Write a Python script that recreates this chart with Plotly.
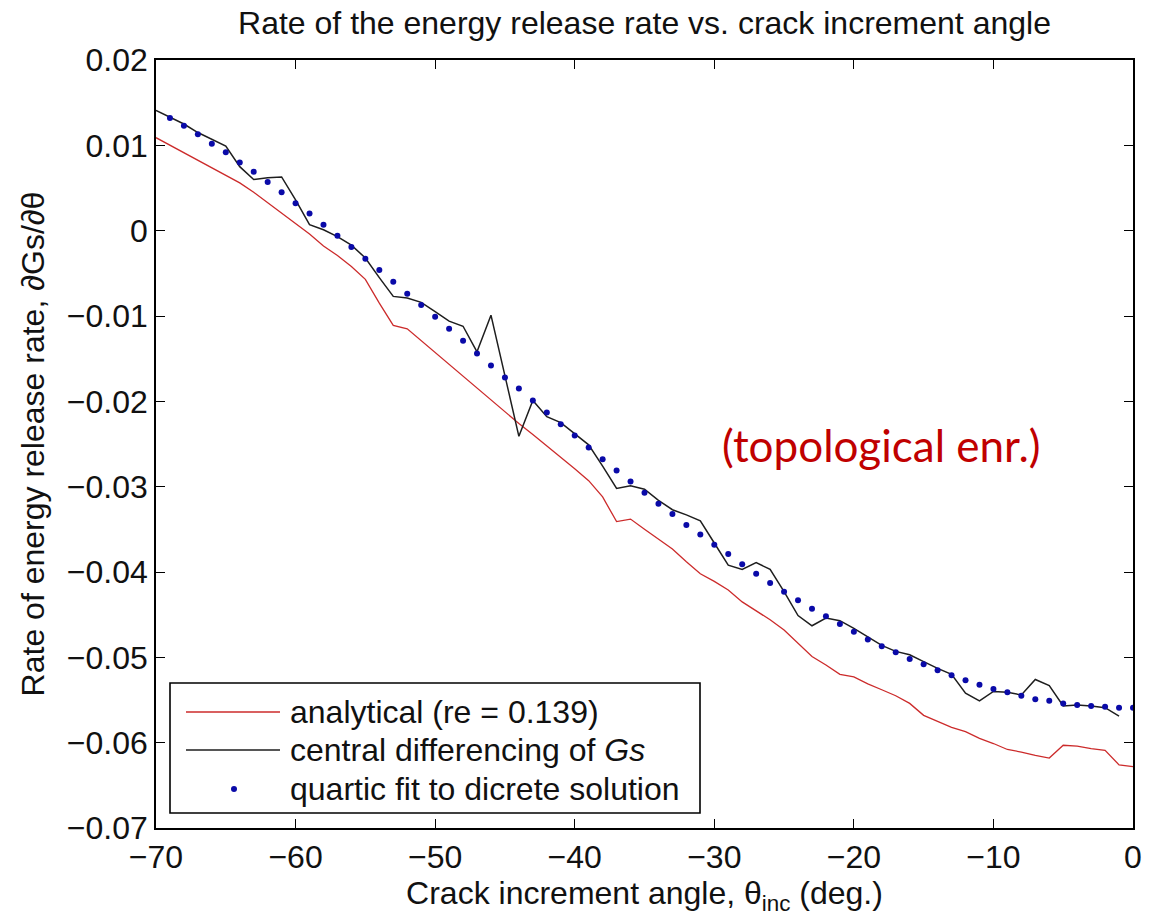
import plotly.graph_objects as go

# ---------------- data ----------------
angle_cd = list(range(-70, 0))          # central differencing of Gs
dGs_cd = [
    0.0141, 0.0133, 0.0125, 0.0115, 0.0107, 0.0099, 0.0075, 0.0060, 0.0062, 0.0063,
    0.0036, 0.0007, 0.0001, -0.0007, -0.0017, -0.0032, -0.0055, -0.0077, -0.0079, -0.0084,
    -0.0095, -0.0106, -0.0112, -0.0142, -0.0099, -0.0171, -0.0241, -0.0199, -0.0218, -0.0225,
    -0.0238, -0.0251, -0.0276, -0.0302, -0.0299, -0.0303, -0.0316, -0.0327, -0.0333, -0.0340,
    -0.0366, -0.0392, -0.0397, -0.0389, -0.0397, -0.0423, -0.0451, -0.0463, -0.0454, -0.0457,
    -0.0466, -0.0476, -0.0486, -0.0493, -0.0497, -0.0505, -0.0513, -0.0520, -0.0542, -0.0551,
    -0.0540, -0.0541, -0.0544, -0.0526, -0.0533, -0.0557, -0.0556, -0.0557, -0.0559, -0.0569,
]

angle_an = list(range(-70, 1))          # analytical (re = 0.139)
dGs_an = [
    0.0109, 0.0100, 0.0091, 0.0082, 0.0073, 0.0065, 0.0056, 0.0045, 0.0033, 0.0020,
    0.0009, -0.0004, -0.0018, -0.0029, -0.0042, -0.0057, -0.0085, -0.0111, -0.0115, -0.0129,
    -0.0142, -0.0157, -0.0171, -0.0185, -0.0198, -0.0212, -0.0226, -0.0239, -0.0252, -0.0265,
    -0.0279, -0.0293, -0.0312, -0.0341, -0.0338, -0.0350, -0.0362, -0.0373, -0.0388, -0.0402,
    -0.0411, -0.0421, -0.0435, -0.0445, -0.0456, -0.0468, -0.0484, -0.0499, -0.0509, -0.0520,
    -0.0523, -0.0531, -0.0538, -0.0545, -0.0554, -0.0568, -0.0575, -0.0582, -0.0587, -0.0595,
    -0.0601, -0.0608, -0.0611, -0.0615, -0.0618, -0.0603, -0.0604, -0.0607, -0.0609, -0.0626,
    -0.0628,
]

angle_fit = list(range(-69, 1))         # quartic fit to discrete solution
dGs_fit = [
    0.0132, 0.0123, 0.0113, 0.0102, 0.0092, 0.0080, 0.0069, 0.0057, 0.0045, 0.0032,
    0.0020, 0.0007, -0.0006, -0.0019, -0.0033, -0.0046, -0.0060, -0.0074, -0.0087, -0.0101,
    -0.0115, -0.0129, -0.0144, -0.0158, -0.0172, -0.0185, -0.0199, -0.0213, -0.0227, -0.0240,
    -0.0254, -0.0268, -0.0281, -0.0294, -0.0307, -0.0320, -0.0332, -0.0345, -0.0356, -0.0368,
    -0.0379, -0.0391, -0.0402, -0.0413, -0.0423, -0.0433, -0.0443, -0.0452, -0.0461, -0.0470,
    -0.0479, -0.0487, -0.0494, -0.0502, -0.0508, -0.0515, -0.0521, -0.0527, -0.0532, -0.0537,
    -0.0541, -0.0545, -0.0549, -0.0551, -0.0554, -0.0556, -0.0557, -0.0558, -0.0559, -0.0559,
]

x_tick_vals = [-70, -60, -50, -40, -30, -20, -10, 0]
x_tick_text = ["\u221270", "\u221260", "\u221250", "\u221240", "\u221230", "\u221220", "\u221210", "0"]
y_tick_vals = [-0.07, -0.06, -0.05, -0.04, -0.03, -0.02, -0.01, 0.0, 0.01, 0.02]
y_tick_text = ["\u22120.07", "\u22120.06", "\u22120.05", "\u22120.04", "\u22120.03",
               "\u22120.02", "\u22120.01", "0", "0.01", "0.02"]

legend_labels = ["analytical (re = 0.139)",
                 "central differencing of <i>Gs</i>",
                 "quartic fit to dicrete solution"]

# ---------------- layout geometry ----------------
W, H = 1155, 920
L, R, T, B = 156, 22, 60, 92
PW, PH = W - L - R, H - T - B
FONT = "Liberation Sans, Arial, Helvetica, sans-serif"
FS = 32


def px(xp):
    return (xp - L) / PW


def py(yp):
    return (H - B - yp) / PH


RED = "#cc2b2b"
BLACK = "#1e1e1e"
BLUE = "#0a0aa8"

fig = go.Figure()
fig.add_trace(go.Scatter(x=angle_an, y=dGs_an, mode="lines",
                         line=dict(color=RED, width=1.3), name=legend_labels[0]))
fig.add_trace(go.Scatter(x=angle_cd, y=dGs_cd, mode="lines",
                         line=dict(color=BLACK, width=1.5), name=legend_labels[1]))
fig.add_trace(go.Scatter(x=angle_fit, y=dGs_fit, mode="markers",
                         marker=dict(color=BLUE, size=6), name=legend_labels[2]))

axis_common = dict(showgrid=False, zeroline=False, showline=True, linecolor="black",
                   linewidth=1.6, mirror="allticks", ticks="inside", ticklen=9,
                   tickwidth=1, tickcolor="black",
                   tickfont=dict(family=FONT, size=FS, color="#111"))

fig.update_xaxes(range=[-70, 0], tickvals=x_tick_vals, ticktext=x_tick_text,
                 title=dict(text="Crack increment angle, \u03b8<sub>inc</sub> (deg.)",
                            font=dict(family=FONT, size=FS, color="#111"), standoff=0),
                 **axis_common)
fig.update_yaxes(range=[-0.07, 0.02], tickvals=y_tick_vals, ticktext=y_tick_text,
                 title=dict(text="Rate of energy release rate, \u2202Gs/\u2202\u03b8",
                            font=dict(family=FONT, size=FS, color="#111"), standoff=13),
                 **axis_common)

# ---- legend drawn manually (MATLAB style) ----
shapes = [
    dict(type="rect", xref="paper", yref="paper", x0=px(170), x1=px(700), y0=py(813), y1=py(683),
         line=dict(color="black", width=1.6), fillcolor="white", layer="above"),
    dict(type="line", xref="paper", yref="paper", x0=px(186), x1=px(280), y0=py(712), y1=py(712),
         line=dict(color=RED, width=1.3), layer="above"),
    dict(type="line", xref="paper", yref="paper", x0=px(186), x1=px(280), y0=py(750), y1=py(750),
         line=dict(color=BLACK, width=1.5), layer="above"),
    dict(type="circle", xref="paper", yref="paper", xsizemode="pixel", ysizemode="pixel",
         xanchor=px(234), yanchor=py(789), x0=-3, x1=3, y0=-3, y1=3,
         line=dict(color=BLUE, width=0), fillcolor=BLUE, layer="above"),
]
annotations = []
for lbl, yp in zip(legend_labels, [712, 750, 789]):
    annotations.append(dict(text=lbl, xref="paper", yref="paper", x=px(288), y=py(yp),
                            xanchor="left", yanchor="middle", showarrow=False,
                            font=dict(family=FONT, size=FS, color="#111")))

annotations.append(dict(text="(topological enr.)", xref="paper", yref="paper",
                        x=px(881), y=py(445), xanchor="center", yanchor="middle",
                        showarrow=False, font=dict(family="Lato, Carlito, sans-serif",
                                                   size=44, color="#c00000")))

fig.update_layout(
    width=W, height=H,
    margin=dict(l=L, r=R, t=T, b=B, autoexpand=False),
    paper_bgcolor="white", plot_bgcolor="white",
    showlegend=False,
    title=dict(text="Rate of the energy release rate vs. crack increment angle",
               x=px(644.5), xanchor="center", xref="paper",
               y=1 - 23 / H, yanchor="middle", yref="container",
               font=dict(family=FONT, size=FS, color="#111")),
    shapes=shapes, annotations=annotations,
)

fig.write_html("out.html")
